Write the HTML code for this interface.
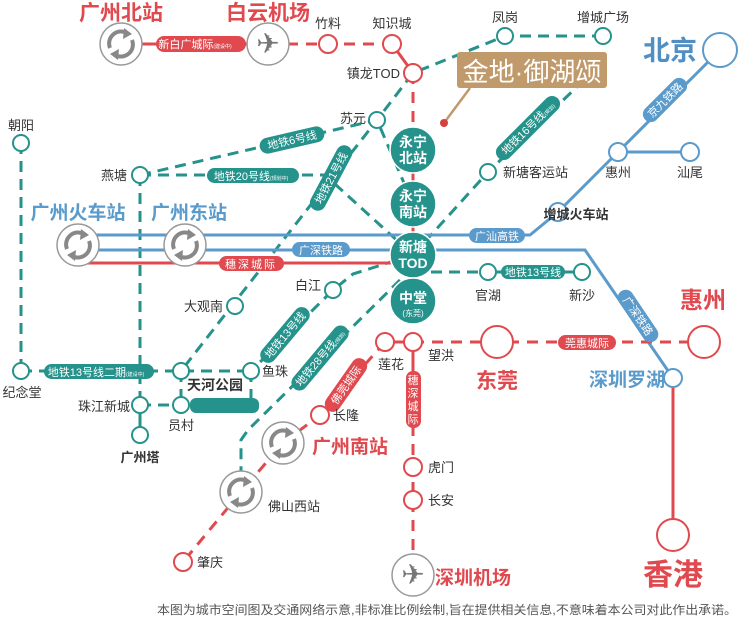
<!DOCTYPE html>
<html><head><meta charset="utf-8"><style>
html,body{margin:0;padding:0;background:#fff;}
svg{display:block;font-family:"Liberation Sans","Noto Sans CJK SC",sans-serif;}
</style></head><body>
<svg width="740" height="622" viewBox="0 0 740 622" xmlns="http://www.w3.org/2000/svg">
<defs>
<g id="sta">
<circle r="21" fill="#fff" stroke="#999" stroke-width="1.5"/>
<path d="M-11,4 A12,12 0 0 1 6,-11" fill="none" stroke="#888" stroke-width="4"/>
<path d="M3,-16 L11,-10 L2,-5 Z" fill="#888"/>
<path d="M11,-4 A12,12 0 0 1 -6,11" fill="none" stroke="#888" stroke-width="4"/>
<path d="M-3,16 L-11,10 L-2,5 Z" fill="#888"/>
</g>
<g id="air">
<circle r="21" fill="#fff" stroke="#999" stroke-width="1.5"/>
<text x="0" y="9" font-size="28" fill="#777" text-anchor="middle" font-family="DejaVu Sans">✈</text>
</g>
</defs>

<!-- teal dashed lines -->
<g fill="none" stroke="#25928b" stroke-width="3" stroke-dasharray="11,7">
<line x1="21" y1="143" x2="21" y2="371"/>
<line x1="140" y1="175" x2="140" y2="405"/>
<line x1="21" y1="371" x2="251" y2="371"/>
<line x1="140" y1="405" x2="181" y2="405"/>
<line x1="251" y1="371" x2="251" y2="405"/>
<line x1="181" y1="371" x2="181" y2="405"/>
<polyline points="140,175 325,175 413,255"/>
<line x1="140" y1="175" x2="377" y2="120"/>
<polyline points="603,36 505,36 413,73 377,120 181,371"/>
<polyline points="413,255 353,274 333,290 251,371"/>
<polyline points="413,272 582,272"/>
<polyline points="400,280 248,430 241,440 241,492"/>
<polyline points="413,255 488,172 580,84"/>
<line x1="413" y1="204" x2="377" y2="120"/>
</g>
<line x1="488" y1="272" x2="582" y2="272" stroke="#25928b" stroke-width="3"/>
<line x1="140" y1="405" x2="140" y2="435" stroke="#25928b" stroke-width="3"/>
<rect x="190" y="398" width="69" height="15" rx="6" fill="#25928b"/>

<!-- blue lines -->
<g fill="none" stroke="#5b9bcc" stroke-width="3">
<polyline points="78,235 530,235 558,212 618,152 708,62"/>
<line x1="618" y1="152" x2="690" y2="152"/>
<polyline points="78,250 585,250 673,378"/>
</g>
<!-- red lines -->
<g fill="none" stroke="#e04a4f" stroke-width="3">
<line x1="121" y1="44" x2="268" y2="44"/>
<line x1="78" y1="263" x2="413" y2="263"/>
<line x1="392" y1="44" x2="413" y2="73"/>
<line x1="413" y1="150" x2="413" y2="300"/>
<line x1="673" y1="378" x2="673" y2="535"/>
<line x1="385" y1="342" x2="413" y2="342"/>
<line x1="413" y1="342" x2="413" y2="425"/>
</g>
<g fill="none" stroke="#e04a4f" stroke-width="3" stroke-dasharray="11,8">
<line x1="268" y1="44" x2="392" y2="44"/>
<line x1="413" y1="73" x2="413" y2="150"/>
<line x1="413" y1="342" x2="704" y2="342"/>
<line x1="413" y1="425" x2="413" y2="575"/>
<polyline points="385,342 320,415 283,443 241,492 183,562"/>
</g>

<!-- pills -->
<g font-size="11" fill="#fff" text-anchor="middle">
<rect x="156" y="36" width="90" height="16" rx="8" fill="#e04a4f"/><text x="195" y="48">新白广城际<tspan font-size="5">(建设中)</tspan></text>
<g transform="translate(292,140) rotate(-13)"><rect x="-33" y="-8" width="66" height="16" rx="8" fill="#25928b"/><text y="4">地铁6号线</text></g>
<rect x="207" y="168" width="92" height="15" rx="7.5" fill="#25928b"/><text x="251" y="180">地铁20号线<tspan font-size="5">(规划中)</tspan></text>
<g transform="translate(331,178) rotate(-62)"><rect x="-36" y="-8" width="72" height="16" rx="8" fill="#25928b"/><text y="4">地铁21号线</text></g>
<g transform="translate(528,128) rotate(-45)"><rect x="-42" y="-8" width="84" height="16" rx="8" fill="#25928b"/><text y="4">地铁16号线<tspan font-size="5">(规划)</tspan></text></g>
<g transform="translate(665,100) rotate(-45)"><rect x="-28" y="-8" width="56" height="16" rx="8" fill="#5b9bcc"/><text y="4">京九铁路</text></g>
<rect x="469" y="228" width="56" height="15" rx="7.5" fill="#5b9bcc"/><text x="497" y="240">广汕高铁</text>
<rect x="292" y="242" width="58" height="15" rx="7.5" fill="#5b9bcc"/><text x="321" y="254">广深铁路</text>
<rect x="219" y="256" width="65" height="15" rx="7.5" fill="#e04a4f"/><text x="251" y="268" letter-spacing="2">穗深城际</text>
<rect x="501" y="265" width="64" height="14" rx="7" fill="#25928b"/><text x="533" y="276">地铁13号线</text>
<g transform="translate(638,316) rotate(56)"><rect x="-30" y="-8" width="60" height="16" rx="8" fill="#5b9bcc"/><text y="4">广深铁路</text></g>
<rect x="44" y="364" width="110" height="15" rx="7.5" fill="#25928b"/><text x="96" y="376">地铁13号线二期<tspan font-size="5">(建设中)</tspan></text>
<g transform="translate(285,335) rotate(-50)"><rect x="-34" y="-8" width="68" height="16" rx="8" fill="#25928b"/><text y="4">地铁13号线</text></g>
<g transform="translate(320,358) rotate(-50)"><rect x="-40" y="-8" width="80" height="16" rx="8" fill="#25928b"/><text y="4">地铁28号线<tspan font-size="5">(规划)</tspan></text></g>
<g transform="translate(346,385) rotate(-55)"><rect x="-31" y="-8" width="62" height="16" rx="8" fill="#e04a4f"/><text y="4">佛莞城际</text></g>
<rect x="558" y="335" width="58" height="15" rx="7.5" fill="#e04a4f"/><text x="587" y="347">莞惠城际</text>
<rect x="406" y="371" width="15" height="57" rx="7" fill="#e04a4f"/>
<text x="413" y="384" font-size="11">穗</text><text x="413" y="397" font-size="11">深</text><text x="413" y="410" font-size="11">城</text><text x="413" y="423" font-size="11">际</text>
</g>

<!-- small stations -->
<g fill="#fff" stroke="#25928b" stroke-width="2">
<circle cx="21" cy="143" r="8"/><circle cx="140" cy="175" r="8"/><circle cx="377" cy="120" r="8"/>
<circle cx="505" cy="36" r="8"/><circle cx="603" cy="36" r="8"/><circle cx="488" cy="172" r="8"/>
<circle cx="333" cy="290" r="8"/><circle cx="235" cy="306" r="8"/><circle cx="488" cy="272" r="8"/><circle cx="582" cy="272" r="8"/>
<circle cx="21" cy="371" r="8"/><circle cx="181" cy="371" r="8"/><circle cx="251" cy="371" r="8"/>
<circle cx="140" cy="405" r="8"/><circle cx="181" cy="405" r="8"/><circle cx="140" cy="435" r="8"/>
</g>
<g fill="#fff" stroke="#5b9bcc" stroke-width="2">
<circle cx="558" cy="212" r="9"/><circle cx="618" cy="152" r="9"/><circle cx="690" cy="152" r="9"/><circle cx="673" cy="378" r="9"/>
<circle cx="720" cy="50" r="17"/>
</g>
<g fill="#fff" stroke="#e04a4f" stroke-width="2">
<circle cx="328" cy="44" r="9"/><circle cx="392" cy="44" r="9"/><circle cx="413" cy="73" r="9"/>
<circle cx="385" cy="342" r="9"/><circle cx="413" cy="342" r="9"/><circle cx="497" cy="342" r="16"/><circle cx="704" cy="342" r="16"/>
<circle cx="320" cy="415" r="9"/><circle cx="413" cy="467" r="9"/><circle cx="413" cy="500" r="9"/><circle cx="183" cy="562" r="9"/>
<circle cx="673" cy="535" r="16"/>
</g>

<!-- big teal stations -->
<g fill="#25928b" stroke="#fff" stroke-width="1.5"><circle cx="413" cy="150" r="23"/><circle cx="413" cy="204" r="23"/><circle cx="413" cy="255" r="23"/><circle cx="413" cy="301" r="23"/></g>
<g fill="#fff" font-weight="bold" text-anchor="middle" font-size="14">
<text x="413" y="147">永宁</text><text x="413" y="163">北站</text>
<text x="413" y="201">永宁</text><text x="413" y="217">南站</text>
<text x="413" y="252">新塘</text><text x="413" y="268">TOD</text>
<text x="413" y="303">中堂</text><text x="413" y="316" font-size="8" font-weight="normal">(东莞)</text>
</g>

<!-- hub icons -->
<use href="#sta" x="121" y="44"/><use href="#air" x="268" y="44"/>
<use href="#sta" x="78" y="245"/><use href="#sta" x="185" y="245"/>
<use href="#sta" x="283" y="443"/><use href="#sta" x="241" y="492"/>
<use href="#air" x="413" y="575"/>

<!-- project box -->
<line x1="470" y1="88" x2="444" y2="123" stroke="#c09a6b" stroke-width="2.5"/>
<circle cx="444" cy="123" r="4" fill="#d5403f"/>
<rect x="457" y="52" width="150" height="36" rx="3" fill="#c09a6b"/>
<text x="532" y="81" font-size="26" fill="#fff" text-anchor="middle">金地·御湖颂</text>

<!-- big labels -->
<g font-weight="bold" text-anchor="middle">
<text x="121" y="20" font-size="21" fill="#e04a4f">广州北站</text>
<text x="268" y="20" font-size="21" fill="#e04a4f">白云机场</text>
<text x="670" y="60" font-size="27" fill="#4f8fc3">北京</text>
<text x="78" y="219" font-size="19" fill="#5b9bcc">广州火车站</text>
<text x="189" y="219" font-size="19" fill="#5b9bcc">广州东站</text>
<text x="703" y="308" font-size="23" fill="#e04a4f">惠州</text>
<text x="497" y="388" font-size="21" fill="#e04a4f">东莞</text>
<text x="627" y="386" font-size="19" fill="#5b9bcc">深圳罗湖</text>
<text x="350" y="453" font-size="19" fill="#e04a4f">广州南站</text>
<text x="473" y="584" font-size="19" fill="#e04a4f">深圳机场</text>
<text x="673" y="585" font-size="30" fill="#e04a4f">香港</text>
<text x="576" y="219" font-size="13" fill="#333">增城火车站</text>
<text x="215" y="390" font-size="14" fill="#333">天河公园</text>
<text x="140" y="462" font-size="13" fill="#333">广州塔</text>
</g>

<!-- station labels -->
<g font-size="13" fill="#333">
<text x="328" y="28" text-anchor="middle">竹料</text>
<text x="392" y="28" text-anchor="middle">知识城</text>
<text x="400" y="78" text-anchor="end">镇龙TOD</text>
<text x="505" y="22" text-anchor="middle">凤岗</text>
<text x="603" y="22" text-anchor="middle">增城广场</text>
<text x="366" y="123" text-anchor="end">苏元</text>
<text x="21" y="130" text-anchor="middle">朝阳</text>
<text x="127" y="180" text-anchor="end">燕塘</text>
<text x="503" y="177">新塘客运站</text>
<text x="618" y="177" text-anchor="middle">惠州</text>
<text x="690" y="177" text-anchor="middle">汕尾</text>
<text x="321" y="290" text-anchor="end">白江</text>
<text x="223" y="311" text-anchor="end">大观南</text>
<text x="488" y="300" text-anchor="middle">官湖</text>
<text x="582" y="300" text-anchor="middle">新沙</text>
<text x="262" y="376">鱼珠</text>
<text x="22" y="397" text-anchor="middle">纪念堂</text>
<text x="130" y="411" text-anchor="end">珠江新城</text>
<text x="181" y="430" text-anchor="middle">员村</text>
<text x="333" y="420">长隆</text>
<text x="268" y="511">佛山西站</text>
<text x="197" y="567">肇庆</text>
<text x="378" y="369">莲花</text>
<text x="428" y="360">望洪</text>
<text x="428" y="472">虎门</text>
<text x="428" y="505">长安</text>
</g>
<text x="157" y="614" font-size="12" fill="#555" textLength="580" lengthAdjust="spacingAndGlyphs">本图为城市空间图及交通网络示意,非标准比例绘制,旨在提供相关信息,不意味着本公司对此作出承诺。</text>
</svg>
</body></html>
